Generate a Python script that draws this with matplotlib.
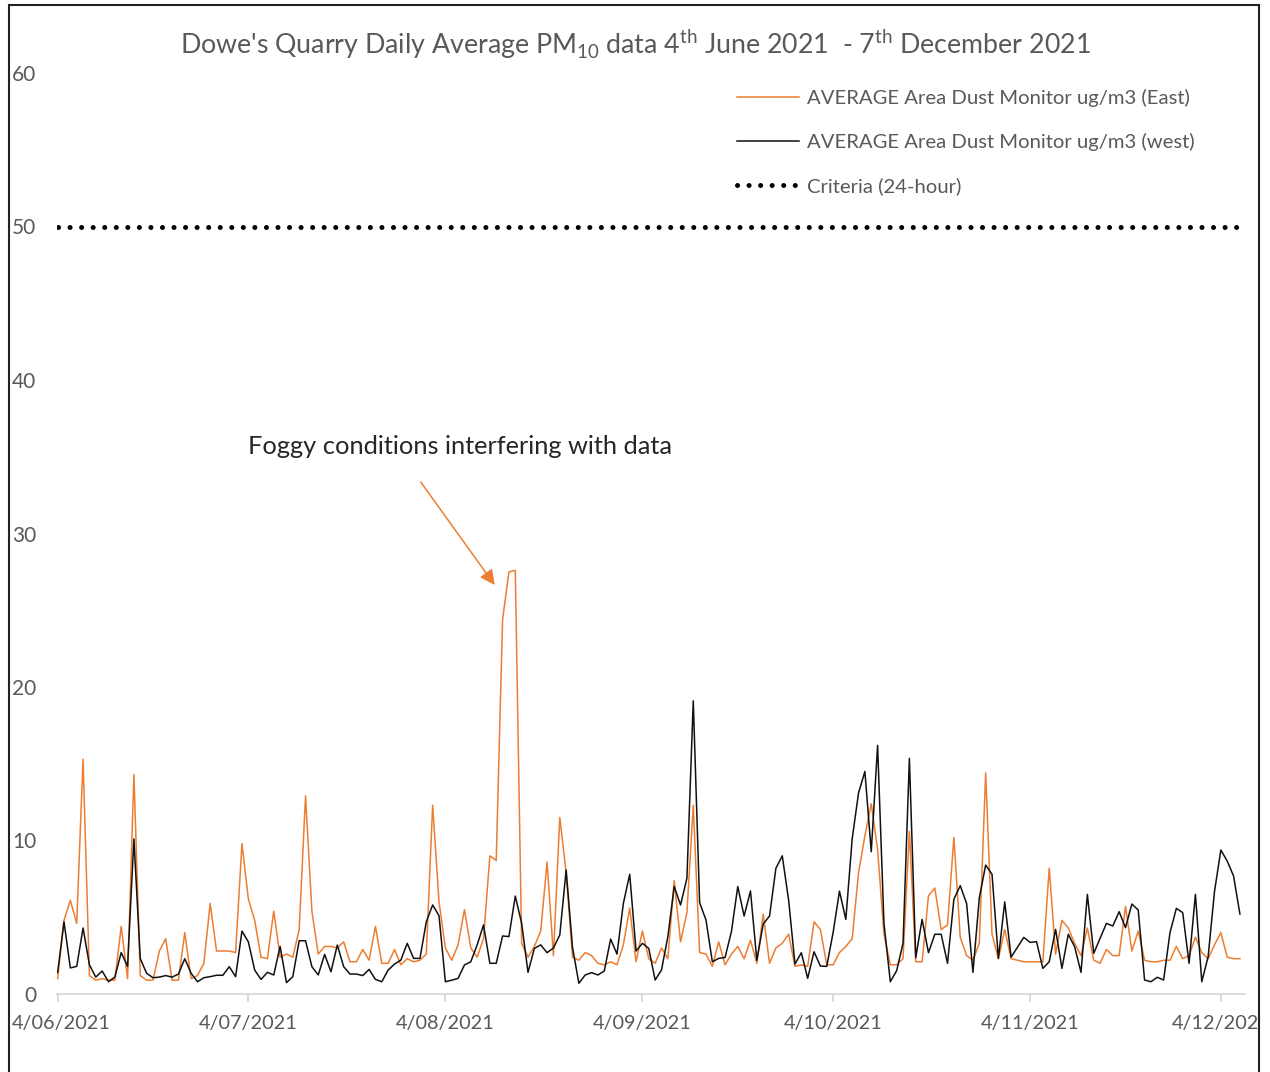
import datetime as dt
import matplotlib
matplotlib.use("Agg")
import matplotlib.pyplot as plt
import matplotlib.dates as mdates
from matplotlib.patches import Rectangle
from matplotlib.transforms import Bbox, TransformedBbox, ScaledTranslation

# daily averages, 4 June 2021 .. 7 December 2021 (ug/m3)
start_date = dt.date(2021, 6, 4)

east = [1.0, 4.8, 6.1, 4.6, 15.3, 1.2, 0.9, 1.0, 0.9, 0.9,
        4.4, 1.0, 14.3, 1.2, 0.9, 0.9, 2.8, 3.6, 0.9, 0.9,
        4.0, 1.0, 1.2, 2.0, 5.9, 2.8, 2.8, 2.8, 2.7, 9.8,
        6.2, 4.8, 2.4, 2.3, 5.4, 2.4, 2.6, 2.4, 4.2, 12.9,
        5.4, 2.6, 3.1, 3.1, 3.0, 3.4, 2.1, 2.1, 2.9, 2.2,
        4.4, 2.0, 2.0, 2.9, 1.9, 2.3, 2.1, 2.2, 2.6, 12.3,
        6.0, 3.0, 2.2, 3.2, 5.5, 3.0, 2.4, 3.6, 9.0, 8.7,
        24.4, 27.5, 27.6, 3.3, 2.4, 3.1, 4.1, 8.6, 2.5, 11.5,
        7.9, 2.4, 2.2, 2.7, 2.5, 2.0, 1.9, 2.1, 1.9, 3.2,
        5.6, 2.1, 4.1, 2.3, 2.0, 3.0, 2.3, 7.4, 3.4, 5.3,
        12.3, 2.7, 2.6, 1.8, 3.4, 1.9, 2.6, 3.1, 2.3, 3.5,
        2.0, 5.2, 2.0, 3.0, 3.3, 3.9, 1.8, 1.9, 1.8, 4.7,
        4.2, 1.9, 1.9, 2.7, 3.1, 3.6, 7.9, 10.3, 12.4, 9.4,
        3.9, 1.9, 1.9, 2.3, 10.6, 2.1, 2.1, 6.4, 6.9, 4.2,
        4.5, 10.2, 3.7, 2.5, 2.2, 3.3, 14.4, 3.9, 2.3, 4.2,
        2.3, 2.2, 2.1, 2.1, 2.1, 2.1, 8.2, 2.6, 4.8, 4.3,
        3.3, 2.5, 4.3, 2.2, 2.0, 2.9, 2.5, 2.5, 5.7, 2.8,
        4.1, 2.2, 2.1, 2.1, 2.2, 2.2, 3.1, 2.3, 2.5, 3.7,
        2.7, 2.3, 3.2, 4.0, 2.4, 2.3, 2.3]

west = [1.4, 4.7, 1.7, 1.8, 4.3, 1.9, 1.1, 1.5, 0.8, 1.1,
        2.7, 1.8, 10.1, 2.3, 1.35, 1.06, 1.1, 1.2, 1.1, 1.3,
        2.3, 1.35, 0.8, 1.06, 1.13, 1.22, 1.22, 1.78, 1.13, 4.1,
        3.4, 1.56, 0.95, 1.41, 1.24, 3.1, 0.74, 1.13, 3.47, 3.47,
        1.78, 1.24, 2.58, 1.45, 3.19, 1.78, 1.3, 1.3, 1.2, 1.6,
        0.95, 0.8, 1.56, 1.95, 2.21, 3.3, 2.32, 2.32, 4.71, 5.8,
        5.1, 0.8, 0.9, 1.02, 1.89, 2.1, 3.2, 4.5, 2.0, 2.0,
        3.78, 3.74, 6.38, 4.6, 1.41, 2.97, 3.2, 2.69, 3.0, 3.84,
        8.08, 3.04, 0.7, 1.24, 1.39, 1.24, 1.5, 3.58, 2.6, 5.9,
        7.8, 2.8, 3.3, 2.97, 0.91, 1.56, 3.73, 7.0, 5.8, 7.54,
        19.1, 5.95, 4.82, 2.1, 2.32, 2.38, 4.06, 7.0, 5.08, 6.71,
        2.19, 4.56, 5.08, 8.19, 9.0, 6.12, 1.95, 2.69, 1.02, 2.75,
        1.82, 1.8, 4.0, 6.7, 4.86, 10.1, 13.1, 14.5, 9.27, 16.2,
        4.6, 0.8, 1.52, 3.3, 15.35, 2.37, 4.86, 2.69, 3.89, 3.89,
        2.0, 6.17, 7.06, 5.9, 1.41, 6.26, 8.4, 7.8, 2.32, 6.0,
        2.4, 3.04, 3.69, 3.36, 3.41, 1.67, 2.1, 4.21, 1.67, 3.89,
        3.08, 1.41, 6.49, 2.65, 3.63, 4.6, 4.43, 5.36, 4.32, 5.86,
        5.47, 0.91, 0.8, 1.09, 0.91, 4.0, 5.58, 5.3, 2.0, 6.49,
        0.8, 2.43, 6.67, 9.38, 8.66, 7.69, 5.21]

criteria_24h = 50

tick_dates = [dt.date(2021, m, 4) for m in range(6, 13)]

labels = ["AVERAGE Area Dust Monitor ug/m3 (East)",
          "AVERAGE Area Dust Monitor ug/m3 (west)",
          "Criteria (24-hour)"]

note = "Foggy conditions interfering with data"

ORANGE = "#ED7D31"
GREY = "#595959"


def main():
    plt.rcParams['font.family'] = ['Lato', 'DejaVu Sans']
    plt.rcParams['mathtext.fontset'] = 'custom'
    plt.rcParams['mathtext.rm'] = 'Lato'

    dates = [start_date + dt.timedelta(days=i) for i in range(len(east))]
    d0 = mdates.date2num(dates[0])

    fig = plt.figure(figsize=(12.7, 10.72), dpi=100)
    W, H = 1270.0, 1072.0
    ax = fig.add_axes([57 / W, 1 - 994 / H, (1245 - 57) / W, (994 - 73) / H])

    l1, = ax.plot(dates, east, color=ORANGE, lw=1.1)
    l2, = ax.plot(dates, west, color="#111111", lw=1.1)
    l3, = ax.plot(dates, [criteria_24h] * len(dates), color="black", lw=3.6,
                  linestyle=(0, (0.01, 2.3)), dash_capstyle='round')

    ax.set_ylim(0, 60)
    ax.set_yticks(range(0, 61, 10))
    ax.set_xlim(d0 - 0.1, mdates.date2num(dates[-1]) + 0.8)
    ax.set_xticks(tick_dates)
    ax.set_xticklabels(["{}/{:02d}/{}".format(d.day, d.month, d.year) for d in tick_dates])

    for s in ("top", "right", "left"):
        ax.spines[s].set_visible(False)
    ax.spines["bottom"].set_color("#D9D9D9")
    ax.spines["bottom"].set_linewidth(1.3)
    ax.tick_params(axis="x", length=6, width=1.3, color="#D9D9D9", pad=9,
                   labelsize=14.3, labelcolor=GREY)
    ax.tick_params(axis="y", length=0, pad=15, labelsize=15, labelcolor=GREY)

    # last date label is cut by the chart border, as in the original
    clip = TransformedBbox(Bbox([[0, 0], [1259 / W, 1]]), fig.transFigure)
    xt = ax.get_xticklabels()
    for t in xt:
        t.set_clip_box(clip)
        t.set_clip_on(True)
    # first label nudged right so it sits inside the border
    xt[0].set_transform(xt[0].get_transform() + ScaledTranslation(4 / 100, 0, fig.dpi_scale_trans))

    fig.text(0.5, 1 - 44 / H,
             r"Dowe's Quarry Daily Average PM$_{10}$ data 4$^{\mathregular{th}}$ June 2021  - "
             r"7$^{\mathregular{th}}$ December 2021",
             ha="center", va="center", fontsize=19.3, color=GREY)

    ax.legend([l1, l2, l3], labels, loc="upper left",
              bbox_to_anchor=(737 / W, 1 - 89 / H), bbox_transform=fig.transFigure,
              frameon=False, fontsize=14.6, labelcolor=GREY,
              handlelength=3.05, handletextpad=0.38, labelspacing=1.28,
              borderpad=0, borderaxespad=0)

    ax.text(d0 + (460 - 58) / 6.355, (994 - 446) / 15.35, note, ha="center", va="center",
            fontsize=18.3, color="#262626")
    ax.annotate("", xy=(d0 + (495 - 58) / 6.355, (994 - 585) / 15.35),
                xytext=(d0 + (421 - 58) / 6.355, (994 - 482) / 15.35),
                arrowprops=dict(arrowstyle="-|>,head_length=0.9,head_width=0.45",
                                color=ORANGE, lw=1.1, shrinkA=0, shrinkB=0))

    fig.patches.append(Rectangle((9 / W, -0.01), (1259 - 9) / W, 1.01 - 5 / H,
                                 transform=fig.transFigure, fill=False,
                                 edgecolor="#222222", lw=1.5))

    fig.savefig("out.png", dpi=100)


if __name__ == "__main__":
    main()
